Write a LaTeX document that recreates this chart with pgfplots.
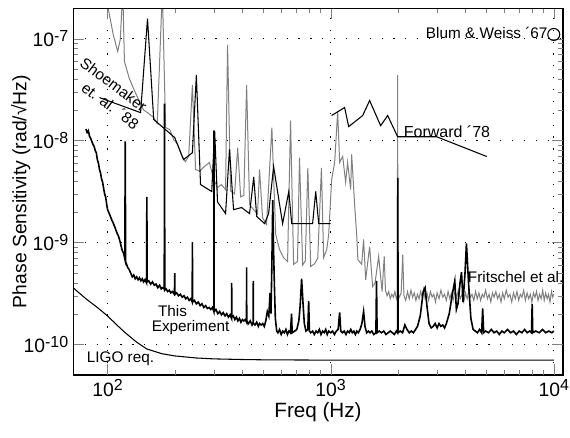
\documentclass[border=0pt]{standalone}
\usepackage{fontspec}
\setmainfont{Liberation Sans}
\usepackage{pgfplots}
\pgfplotsset{compat=1.18}

\newcommand{\tp}[1]{10\raisebox{4pt}{\fontsize{12}{13}\selectfont #1}}

% Shoemaker et al. 1988 (black, thin)
\pgfplotstableread{
f v
92 2.64e-8
140.6 1.88e-8
151 1.57e-7
161 1.61e-8
200 1.07e-8
219 6.5e-9
240 7.6e-9
250 4.4e-8
261 3.7e-9
293 3.16e-9
302 1.25e-8
311 2.5e-9
338 1.92e-9
352 8.2e-9
367 2.1e-9
399 2.2e-9
433 1.92e-9
452 4.4e-9
466 1.8e-9
506 1.53e-9
527 1.92e-9
555 5.56e-9
609 1.53e-9
649 3.16e-9
669 1.53e-9
830 1.53e-9
857 3.16e-9
884 1.53e-9
1000 1.53e-9
}\shoemaker

% Forward 1978 (black, thin)
\pgfplotstableread{
f v
1009 1.76e-8
1155 2.11e-8
1204 1.37e-8
1391 1.76e-8
1495 2.47e-8
1675 1.40e-8
1801 1.76e-8
1996 1.09e-8
2985 1.09e-8
5010 6.97e-9
}\forward

% LIGO requirement
\pgfplotstableread{
f v
70 3.6e-10
80 2.8e-10
90 2.3e-10
100 1.9e-10
110 1.55e-10
120 1.3e-10
135 1.05e-10
150 9.0e-11
175 8.1e-11
200 7.7e-11
250 7.35e-11
300 7.2e-11
400 7.1e-11
500 7.05e-11
1000 7.0e-11
10000 7.0e-11
}\ligo

% gray spectrum (Shoemaker data and Fritschel et al.)
\pgfplotstableread{
f v
97 3.0e-7
102 1.7e-7
106 1.1e-7
111 7.5e-8
114 9.8e-8
117 3.0e-7
119 6.0e-8
125 4.1e-8
131 3.2e-8
138 2.5e-8
145 2.0e-8
153 1.84e-8
161 1.68e-8
167 1.47e-8
176 3.0e-7
182 1.34e-8
190 1.28e-8
198 1.02e-8
206 9.2e-9
214 7.3e-9
223 6.2e-9
231 7.0e-9
240 3.5e-8
248 5.2e-9
259 5.0e-9
270 5.5e-9
286 6.1e-9
299 4.15e-9
311 3.46e-9
324 3.7e-9
338 3.3e-9
345 8.7e-8
356 3.2e-9
371 3.0e-9
383 8.5e-9
395 2.8e-9
408 2.9e-9
420 3.5e-8
433 2.36e-9
452 2.1e-9
470 1.9e-9
480 5.2e-9
495 1.75e-9
516 1.5e-9
545 1.34e-8
567 1.2e-9
590 8.5e-10
615 7.1e-10
641 6.5e-10
661 1.57e-8
682 6.1e-10
710 6.5e-10
725 6.8e-9
749 6.0e-10
770 6.6e-10
790 5.4e-9
814 5.8e-10
848 6.2e-10
875 7.0e-10
909 5.4e-9
930 7.1e-10
960 8.5e-10
980 1.2e-9
1010 4.15e-9
1042 6.1e-9
1075 1.92e-8
1097 6.1e-9
1132 7.0e-9
1167 3.9e-9
1191 6.1e-9
1229 3.3e-9
1242 7.3e-9
1282 2.25e-9
1309 1.15e-9
1324 6.8e-10
1377 6.1e-10
1405 1.07e-9
1435 4.3e-10
1495 9.1e-10
1542 3.7e-10
1580 4.0e-10
1641 7.3e-10
1700 3.3e-10
1738 7.3e-10
1760 3.4e-10
1790 3.0e-10
1820 3.3e-10
1850 2.8e-10
1880 3.1e-10
1910 2.9e-10
1940 3.3e-10
1970 2.8e-10
1990 3.0e-10
1996 4.4e-8
2002 3.1e-10
2030 2.9e-10
2070 3.2e-10
2104 7.6e-10
2130 3.0e-10
2170 2.7e-10
2210 3.3e-10
2250 2.8e-10
2290 3.4e-10
2330 2.9e-10
2370 3.2e-10
2410 2.7e-10
2450 3.1e-10
2490 2.8e-10
2530 3.3e-10
2570 2.9e-10
2610 3.5e-10
2650 2.8e-10
2700 3.2e-10
2750 2.7e-10
2800 3.3e-10
2850 2.9e-10
2900 3.1e-10
2950 2.6e-10
3000 3.2e-10
3060 2.8e-10
3120 3.4e-10
3180 2.9e-10
3240 3.1e-10
3300 2.7e-10
3360 3.3e-10
3420 2.8e-10
3480 3.2e-10
3540 2.7e-10
3600 3.3e-10
3670 2.9e-10
3740 3.4e-10
3810 2.8e-10
3880 3.1e-10
3950 2.6e-10
4020 3.2e-10
4090 2.8e-10
4160 3.3e-10
4230 2.9e-10
4300 3.1e-10
4380 2.7e-10
4460 3.3e-10
4540 2.8e-10
4620 3.2e-10
4700 2.7e-10
4780 3.1e-10
4860 2.9e-10
4950 3.4e-10
5040 2.8e-10
5130 3.1e-10
5220 2.6e-10
5310 3.2e-10
5400 2.9e-10
5500 3.3e-10
5600 2.8e-10
5700 3.1e-10
5800 2.6e-10
5900 3.2e-10
6000 2.8e-10
6120 3.4e-10
6240 2.9e-10
6360 3.1e-10
6480 2.6e-10
6600 3.2e-10
6720 2.8e-10
6840 3.3e-10
6960 2.7e-10
7080 3.1e-10
7200 2.9e-10
7330 3.4e-10
7460 2.7e-10
7590 3.2e-10
7720 2.8e-10
7850 3.1e-10
7980 2.6e-10
8110 3.2e-10
8240 2.9e-10
8370 3.3e-10
8500 2.7e-10
8640 3.1e-10
8780 2.8e-10
8920 3.4e-10
9060 2.7e-10
9200 3.2e-10
9340 2.8e-10
9480 3.1e-10
9620 2.6e-10
9760 3.3e-10
9900 2.9e-10
10000 3.1e-10
}\grayspec

% this experiment (black, thick)
\pgfplotstableread{
f v
80 1.3e-8
81 1.2e-8
82 1.25e-8
83 1.1e-8
84 1.05e-8
85 9.8e-9
86 9.2e-9
87 8.8e-9
88 8.0e-9
89 7.6e-9
90 6.5e-9
91 6.0e-9
92 5.2e-9
93 4.8e-9
94 4.2e-9
95 3.9e-9
96 3.4e-9
97 3.0e-9
98 2.8e-9
99 2.4e-9
100 2.1e-9
102 1.9e-9
104 1.7e-9
106 1.55e-9
108 1.4e-9
110 1.25e-9
112 1.15e-9
114 1.0e-9
116 8.5e-10
118 7.8e-10
119.5 6.9e-10
120 9.8e-9
120.5 6.5e-10
123 5.7e-10
125 5.4e-10
127 5.0e-10
129 4.6e-10
131 4.8e-10
133 4.4e-10
135 4.6e-10
137 4.3e-10
139 4.5e-10
141 4.2e-10
143 4.4e-10
145 4.1e-10
147 4.3e-10
149.5 4.0e-10
150 2.8e-9
150.5 4.1e-10
153 4.2e-10
156 3.9e-10
159 4.1e-10
162 3.8e-10
165 3.9e-10
168 3.6e-10
171 3.8e-10
174 3.5e-10
176 3.6e-10
179.5 3.5e-10
180 2.3e-8
180.5 3.4e-10
183 3.5e-10
186 3.3e-10
189 3.4e-10
192 3.2e-10
195 3.3e-10
199.5 3.1e-10
200 5.0e-10
200.5 3.1e-10
204 3.2e-10
208 3.0e-10
212 3.1e-10
216 2.9e-10
220 3.0e-10
224 2.8e-10
228 2.9e-10
232 2.7e-10
236 2.8e-10
239.5 2.6e-10
240 1.0e-9
240.5 2.6e-10
245 2.7e-10
250 2.5e-10
255 2.6e-10
260 2.4e-10
265 2.5e-10
270 2.3e-10
275 2.4e-10
280 2.25e-10
285 2.3e-10
290 2.2e-10
295 2.3e-10
299.5 2.1e-10
300 1.25e-8
300.5 2.1e-10
306 2.2e-10
312 2.0e-10
318 2.1e-10
324 1.95e-10
330 2.05e-10
336 1.9e-10
342 2.0e-10
348 1.85e-10
354 1.95e-10
359.5 1.8e-10
360 4.0e-10
360.5 1.85e-10
366 1.9e-10
372 1.75e-10
378 1.85e-10
384 1.7e-10
390 1.8e-10
396 1.65e-10
402 1.75e-10
408 1.7e-10
414 1.75e-10
419.5 1.65e-10
420 5.7e-10
420.5 1.7e-10
428 1.6e-10
436 1.7e-10
444 1.55e-10
449.5 1.65e-10
450 4.2e-10
450.5 1.6e-10
458 1.55e-10
466 1.65e-10
474 1.5e-10
480 1.6e-10
488 1.55e-10
496 1.6e-10
504 1.5e-10
512 1.7e-10
520 2.1e-10
528 1.9e-10
535 3.2e-10
540 2.0e-10
545 6.0e-10
550 2.6e-9
555 8.0e-10
560 3.5e-10
565 1.8e-10
573 1.35e-10
580 1.3e-10
590 1.4e-10
600 1.25e-10
610 1.35e-10
620 1.3e-10
630 1.4e-10
640 1.25e-10
650 1.35e-10
660 1.3e-10
668 2.0e-10
672 1.3e-10
690 1.35e-10
705 1.4e-10
720 1.7e-10
730 2.4e-10
741 4.4e-10
752 2.5e-10
762 1.6e-10
775 1.35e-10
790 1.4e-10
797 2.65e-10
803 1.35e-10
815 1.3e-10
830 1.35e-10
845 1.25e-10
860 1.35e-10
875 1.3e-10
890 1.4e-10
905 1.25e-10
920 1.35e-10
935 1.3e-10
950 1.4e-10
965 1.25e-10
980 1.35e-10
1000 1.3e-10
1020 1.35e-10
1040 1.25e-10
1060 1.35e-10
1080 1.4e-10
1097 2.06e-10
1110 1.35e-10
1130 1.3e-10
1150 1.35e-10
1170 1.25e-10
1190 1.35e-10
1210 1.3e-10
1230 1.4e-10
1250 1.3e-10
1270 1.35e-10
1290 1.25e-10
1310 1.35e-10
1330 1.3e-10
1355 1.4e-10
1380 1.6e-10
1405 2.1e-10
1425 1.5e-10
1450 1.3e-10
1475 1.35e-10
1500 1.3e-10
1530 1.35e-10
1560 1.25e-10
1595 1.3e-10
1605 4.2e-10
1615 1.3e-10
1650 1.35e-10
1690 1.3e-10
1730 1.35e-10
1770 1.25e-10
1810 1.3e-10
1850 1.35e-10
1890 1.3e-10
1930 1.25e-10
1970 1.35e-10
1995 1.3e-10
2000 4.3e-9
2005 1.3e-10
2050 1.35e-10
2100 1.3e-10
2150 1.55e-10
2200 1.4e-10
2250 1.3e-10
2300 1.35e-10
2350 1.3e-10
2400 1.4e-10
2450 1.5e-10
2520 1.9e-10
2600 3.3e-10
2650 3.6e-10
2700 2.4e-10
2760 1.6e-10
2820 1.45e-10
2880 1.5e-10
2940 1.6e-10
3000 1.45e-10
3060 1.6e-10
3120 1.5e-10
3180 1.55e-10
3240 1.45e-10
3300 1.6e-10
3400 2.0e-10
3500 3.0e-10
3600 4.2e-10
3660 2.2e-10
3720 2.5e-10
3800 4.0e-10
3860 5.1e-10
3920 2.6e-10
4000 5.0e-10
4060 9.8e-10
4150 4.0e-10
4250 1.8e-10
4350 1.4e-10
4450 1.35e-10
4550 1.3e-10
4650 1.4e-10
4750 1.3e-10
4800 2.25e-10
4850 1.3e-10
4950 1.35e-10
5100 1.3e-10
5250 1.4e-10
5400 1.3e-10
5550 1.35e-10
5700 1.25e-10
5850 1.35e-10
6000 1.3e-10
6200 1.4e-10
6400 1.3e-10
6600 1.35e-10
6800 1.25e-10
7000 1.35e-10
7200 1.3e-10
7400 1.4e-10
7600 1.3e-10
7800 1.35e-10
7950 1.3e-10
8000 2.5e-10
8050 1.3e-10
8300 1.35e-10
8600 1.3e-10
8900 1.4e-10
9200 1.3e-10
9500 1.35e-10
9800 1.3e-10
10000 1.35e-10
}\thisexp

\begin{document}
\begin{tikzpicture}
\begin{axis}[
    scale only axis,
    width=367.5pt, height=275.25pt,
    xmode=log, ymode=log,
    xmin=70, xmax=11000,
    ymin=5e-11, ymax=2e-7,
    xtick={100,1000,10000},
    xticklabels={\tp{2},\tp{3},\tp{4}},
    ytick={1e-10,1e-9,1e-8,1e-7},
    yticklabels={\tp{-10},\tp{-9},\tp{-8},\tp{-7}},
    tick label style={font=\fontsize{14.5}{17}\selectfont},
    xlabel style={font=\fontsize{15.5}{18}\selectfont, yshift=2pt},
    ylabel style={font=\fontsize{14.5}{17}\selectfont, yshift=-12pt},
    xlabel={Freq (Hz)},
    ylabel={Phase Sensitivity (rad/√Hz)},
    tick align=inside,
    major tick length=8pt, minor tick length=4pt,
    axis on top,
]
% dotted grid at the decades
\draw[black, line width=0.9pt, dash pattern=on 0.9pt off 8pt] (axis cs:100,5e-11) -- (axis cs:100,2e-7);
\draw[black, line width=0.9pt, dash pattern=on 0.9pt off 8pt] (axis cs:1000,5e-11) -- (axis cs:1000,2e-7);
\draw[black, line width=0.9pt, dash pattern=on 0.9pt off 8pt] (axis cs:10000,5e-11) -- (axis cs:10000,2e-7);
\draw[black, line width=0.9pt, dash pattern=on 0.9pt off 8pt] (axis cs:70,1e-10) -- (axis cs:11000,1e-10);
\draw[black, line width=0.9pt, dash pattern=on 0.9pt off 8pt] (axis cs:70,1e-9) -- (axis cs:11000,1e-9);
\draw[black, line width=0.9pt, dash pattern=on 0.9pt off 8pt] (axis cs:70,1e-8) -- (axis cs:11000,1e-8);
\draw[black, line width=0.9pt, dash pattern=on 0.9pt off 8pt] (axis cs:70,1e-7) -- (axis cs:11000,1e-7);

\addplot[black!50, line width=0.75pt] table[x=f, y=v] {\grayspec};
\addplot[black, line width=1.2pt] table[x=f, y=v] {\thisexp};
\addplot[black, line width=0.8pt] table[x=f, y=v] {\shoemaker};
\addplot[black, line width=0.8pt] table[x=f, y=v] {\forward};
\addplot[black, line width=0.8pt] table[x=f, y=v] {\ligo};
\addplot[only marks, mark=o, mark size=4.5pt, black, line width=0.8pt] coordinates {(10000,1.1e-7)};

\node[font=\fontsize{11.5}{13}\selectfont, rotate=-37] at (axis cs:106.4,3.54e-8) {Shoemaker};
\node[font=\fontsize{11.5}{13}\selectfont, rotate=-37] at (axis cs:103,2.2e-8) {et. al. ´88};
\node[font=\fontsize{11.5}{13}\selectfont, anchor=east, inner sep=0pt] at (axis cs:9400,1.14e-7) {Blum \& Weiss ´67};
\node[font=\fontsize{12}{13}\selectfont, anchor=west, inner sep=0pt] at (axis cs:2123,1.22e-8) {Forward ´78};
\node[font=\fontsize{11.5}{13}\selectfont, anchor=west, inner sep=0pt] at (axis cs:4111,4.54e-10) {Fritschel et al.};
\node[font=\fontsize{11.5}{13}\selectfont] at (axis cs:195.6,2.11e-10) {This};
\node[font=\fontsize{11.5}{13}\selectfont] at (axis cs:235.5,1.47e-10) {Experiment};
\node[font=\fontsize{11.5}{13}\selectfont, anchor=west, inner sep=0pt] at (axis cs:80.5,7.3e-11) {LIGO req.};

% heavier frame, as in the reference
\draw[black, line width=2.2pt] (rel axis cs:0,0) rectangle (rel axis cs:1,1);
\end{axis}
\pgfresetboundingbox
\path[use as bounding box] (-54.75pt,-46.5pt) rectangle (372.75pt,281.25pt);
\end{tikzpicture}
\end{document}
